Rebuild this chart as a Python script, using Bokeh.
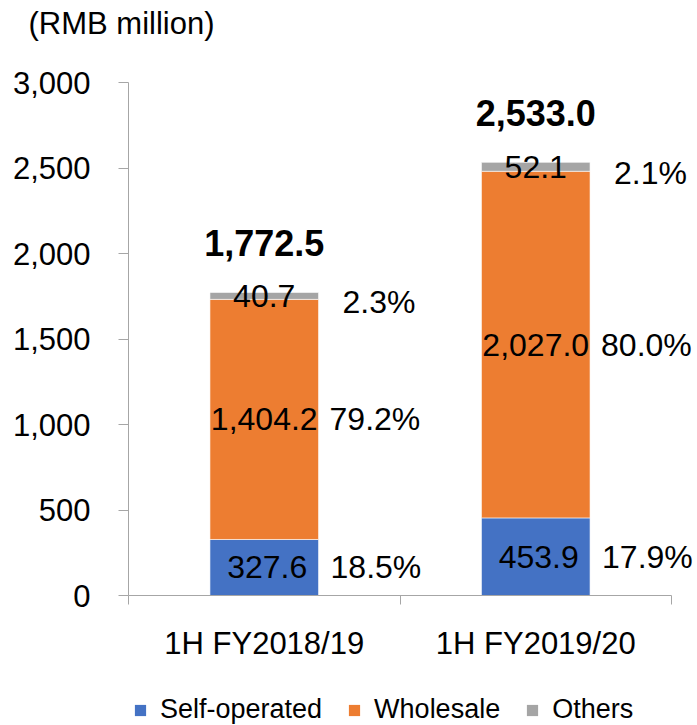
from bokeh.plotting import figure
from bokeh.layouts import column
from bokeh.models import ColumnDataSource, Range1d, FixedTicker, Legend, LegendItem, NumeralTickFormatter
from bokeh.core.properties import value
from bokeh.embed import file_html
from bokeh.resources import INLINE

# ---- data ----
categories = ["1H FY2018/19", "1H FY2019/20"]
self_operated = [327.6, 453.9]
wholesale = [1404.2, 2027.0]
others = [40.7, 52.1]
totals = [1772.5, 2533.0]
y_ticks = [0, 500, 1000, 1500, 2000, 2500, 3000]
series_names = ["Self-operated", "Wholesale", "Others"]
colors = ["#4472C4", "#ED7D31", "#A5A5A5"]

FONT = "Liberation Sans"
BAR_W = 0.4
xpos = [i + 0.5 for i in range(len(categories))]

s_top = list(self_operated)
w_top = [a + b for a, b in zip(s_top, wholesale)]
o_top = [a + b for a, b in zip(w_top, others)]

src = ColumnDataSource(dict(
    x=xpos,
    s0=[0] * len(xpos), s1=s_top, w1=w_top, o1=o_top,
    s_mid=[a / 2 for a in s_top],
    w_mid=[(a + b) / 2 for a, b in zip(s_top, w_top)],
    o_mid=[(a + b) / 2 for a, b in zip(w_top, o_top)],
    s_lab=[f"{v:,.1f}" for v in self_operated],
    w_lab=[f"{v:,.1f}" for v in wholesale],
    o_lab=[f"{v:,.1f}" for v in others],
    s_pct=[f"{v / t * 100:.1f}%" for v, t in zip(self_operated, totals)],
    w_pct=[f"{v / t * 100:.1f}%" for v, t in zip(wholesale, totals)],
    o_pct=[f"{v / t * 100:.1f}%" for v, t in zip(others, totals)],
    xr=[x + BAR_W / 2 for x in xpos],
    tot=totals,
    tot_lab=[f"{v:,.1f}" for v in totals],
))

W = 695
LEFT = 128
MAIN_H = 680
LEG_H = 45
p = figure(width=W, height=MAIN_H,
           x_range=Range1d(0, (W - LEFT) / 271.5), y_range=Range1d(0, 3000),
           output_backend="svg", toolbar_location=None,
           min_border_left=LEFT, min_border_right=0,
           min_border_top=82, min_border_bottom=MAIN_H - 595)

r1 = p.vbar(x="x", width=BAR_W, bottom="s0", top="s1", source=src,
            fill_color=colors[0], line_color="white", line_width=0.6)
r2 = p.vbar(x="x", width=BAR_W, bottom="s1", top="w1", source=src,
            fill_color=colors[1], line_color="white", line_width=0.6)
r3 = p.vbar(x="x", width=BAR_W, bottom="w1", top="o1", source=src,
            fill_color=colors[2], line_color="white", line_width=0.6)

lab_kw = dict(source=src, text_font=value(FONT), text_font_size=value("32px"),
              text_color="#000000", text_baseline="middle")
p.text(x="x", y="s_mid", text="s_lab", text_align="center", x_offset=3, **lab_kw)
p.text(x="x", y="w_mid", text="w_lab", text_align="center", **lab_kw)
p.text(x="x", y="o_mid", text="o_lab", text_align="center", **lab_kw)
p.text(x="xr", y="s_mid", text="s_pct", text_align="left", x_offset=12, **lab_kw)
p.text(x="xr", y="w_mid", text="w_pct", text_align="left", x_offset=11, **lab_kw)
p.text(x="xr", y="o_mid", text="o_pct", text_align="left", x_offset=24, y_offset=6, **lab_kw)
p.text(x="x", y="tot", text="tot_lab", text_align="center", y_offset=-49,
       source=src, text_font=value(FONT), text_font_size=value("36px"),
       text_font_style="bold", text_color="#000000", text_baseline="middle")

# axes
AX = "#A6A6A6"
p.xgrid.visible = False
p.ygrid.visible = False
p.outline_line_color = None

xa = p.xaxis[0]
xa.ticker = FixedTicker(ticks=xpos, minor_ticks=list(range(len(categories) + 1)))
xa.major_label_overrides = {x: c for x, c in zip(xpos, categories)}
xa.bounds = (0, len(categories))
xa.axis_line_color = AX
xa.major_tick_line_color = None
xa.major_tick_out = 0
xa.major_tick_in = 0
xa.minor_tick_line_color = AX
xa.minor_tick_out = 9
xa.minor_tick_in = 0
xa.major_label_standoff = 21
xa.major_label_text_font = FONT
xa.major_label_text_font_size = "31px"
xa.major_label_text_color = "#000000"

ya = p.yaxis[0]
ya.ticker = FixedTicker(ticks=y_ticks)
ya.formatter = NumeralTickFormatter(format="0,0")
ya.axis_line_color = AX
ya.major_tick_line_color = AX
ya.major_tick_out = 10
ya.major_tick_in = 0
ya.minor_tick_line_color = None
ya.major_label_standoff = 28
ya.major_label_text_font = FONT
ya.major_label_text_font_size = "31px"
ya.major_label_text_color = "#000000"

# title (second blank line lifts it to the top of the border)
p.title.text = "(RMB million)\n "
p.title.text_font = FONT
p.title.text_font_size = "31px"
p.title.text_font_style = "normal"
p.title.text_color = "#000000"
p.title.text_line_height = 1.1
p.title.align = "left"
p.title.offset = -100
p.title.standoff = 6

# legend strip below the chart (zero-height proxy bars carry the swatches)
pl = figure(width=W, height=LEG_H, x_range=Range1d(0, 1), y_range=Range1d(0, 1),
            x_axis_type=None, y_axis_type=None,
            output_backend="svg", toolbar_location=None,
            min_border=0, min_border_left=0, min_border_right=0,
            min_border_top=0, min_border_bottom=0)
pl.outline_line_color = None
pl.grid.visible = False
proxy = ColumnDataSource(dict(x=[0.5], top=[0], bottom=[0]))
leg_rs = [pl.vbar(x="x", top="top", bottom="bottom", width=0.1, source=proxy,
                  fill_color=c, line_color=c, line_alpha=0)
          for c in colors]
legend = Legend(items=[LegendItem(label=n, renderers=[r]) for n, r in zip(series_names, leg_rs)],
                orientation="horizontal", location=(5, 0),
                padding=0, spacing=25, label_standoff=13,
                glyph_width=14, glyph_height=14, margin=0,
                border_line_color=None, background_fill_alpha=0,
                label_text_font=FONT, label_text_font_size="27px",
                label_text_color="#000000")
pl.add_layout(legend)

layout = column(p, pl, spacing=0)
open("out.html", "w").write(file_html(layout, INLINE))
